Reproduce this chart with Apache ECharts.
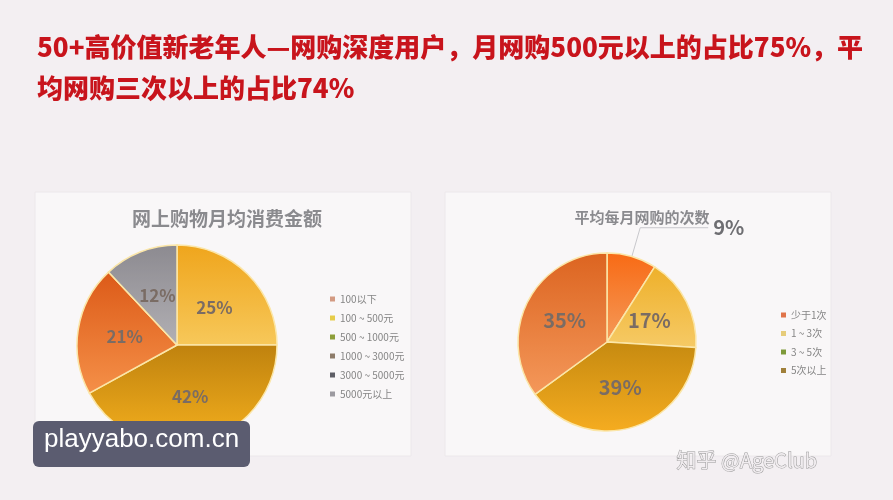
<!DOCTYPE html>
<html>
<head>
<meta charset="utf-8">
<script src="https://cdn.jsdelivr.net/npm/echarts@6/dist/echarts.min.js"></script>
<style>
	html, body { margin: 0; padding: 0; background: #f3eff2; }
	#main { width: 893px; height: 500px; }
</style>
</head>
<body>
<div id="main"></div>
<script>
// 网上购物月均消费金额
const amountCats = ["100以下", "100 ~ 500元", "500 ~ 1000元", "1000 ~ 3000元", "3000 ~ 5000元", "5000元以上"];
const amountValues = [0, 25, 42, 21, 0, 12];
// 平均每月网购的次数
const freqCats = ["少于1次", "1 ~ 3次", "3 ~ 5次", "5次以上"];
const freqValues = [9, 17, 39, 35];

const titleLines = [
	"50+高价值新老年人—网购深度用户，月网购500元以上的占比75%，平",
	"均网购三次以上的占比74%"
];

function grad(top, bottom) {
	return new echarts.graphic.LinearGradient(0, 0, 0, 1, [
		{ offset: 0, color: top },
		{ offset: 1, color: bottom }
	]);
}

// slice colours, legend icon colours
const amountSlice = [
	grad("#d88a5a", "#e8a070"),
	grad("#efa51c", "#f7c85a"),
	grad("#bf820e", "#f5b01e"),
	grad("#dc5a18", "#f59048"),
	grad("#6a6a70", "#8a8a90"),
	grad("#8c8a90", "#b2b0b4")
];
const amountIcon = ["#d39a82", "#e6cc4a", "#8e9e3a", "#8e7c6a", "#5e5e66", "#9c9aa0"];
const freqSlice = [
	grad("#f86a14", "#f49a5a"),
	grad("#eeb02a", "#f6ca66"),
	grad("#c68a10", "#f5ac20"),
	grad("#dc6420", "#f4985a")
];
const freqIcon = ["#e0744a", "#e6cc7a", "#7e9a3a", "#a0803a"];

let chart = echarts.init(document.getElementById("main"));

let labelFmt = function(p) {
	return p.value > 0 ? p.percent + "%" : "";
};

let option = {
	backgroundColor: "#f3eff2",
	textStyle: { fontFamily: "Noto Sans CJK SC" },
	graphic: [
		{
			type: "rect", z: -10,
			shape: { x: 35, y: 192, width: 376, height: 264 },
			style: { fill: "#f9f7f8", stroke: "#ece8eb", lineWidth: 1 }
		},
		{
			type: "rect", z: -10,
			shape: { x: 445, y: 192, width: 386, height: 264 },
			style: { fill: "#f9f7f8", stroke: "#ece8eb", lineWidth: 1 }
		},
		{
			type: "text", left: 37, top: 27,
			style: {
				text: titleLines.join("\n"),
				fill: "#c8141c",
				font: "900 26px 'Noto Sans CJK SC'",
				lineHeight: 41
			}
		},
		{
			type: "rect", z: 100,
			shape: { x: 33, y: 421, width: 217, height: 46, r: 6 },
			style: { fill: "#5b5c70" }
		},
		{
			type: "text", z: 101, left: 44, top: 427,
			style: { text: "playyabo.com.cn", fill: "#ffffff", font: "26px 'Liberation Sans'" }
		},
		{
			type: "text", z: 101, left: 676, top: 450,
			style: { text: "知乎 @AgeClub", fill: "#f0ecef", stroke: "#9a9a9a", lineWidth: 1, font: "20px 'Noto Sans CJK SC'" }
		}
	],
	title: [
		{
			text: "网上购物月均消费金额",
			left: 222, top: 204, textAlign: "center",
			textStyle: { color: "#8a8a8e", fontSize: 19, fontWeight: "bold" }
		},
		{
			text: "平均每月网购的次数",
			left: 637, top: 205, textAlign: "center",
			textStyle: { color: "#8a8a8e", fontSize: 15, fontWeight: "bold" }
		}
	],
	legend: [
		{
			orient: "vertical", left: 325, top: 289,
			icon: "rect", itemWidth: 5, itemHeight: 5, itemGap: 9, itemStyle: { borderWidth: 0 },
			textStyle: { color: "#858585", fontSize: 10 },
			data: amountCats.map((n, i) => ({ name: n, itemStyle: { color: amountIcon[i] } }))
		},
		{
			orient: "vertical", left: 776, top: 305,
			icon: "rect", itemWidth: 5, itemHeight: 5, itemGap: 8.5, itemStyle: { borderWidth: 0 },
			textStyle: { color: "#858585", fontSize: 10 },
			data: freqCats.map((n, i) => ({ name: n, itemStyle: { color: freqIcon[i] } }))
		}
	],
	series: [
		{
			name: "网上购物月均消费金额",
			type: "pie",
			center: [177, 345],
			radius: 100,
			startAngle: 90,
			animation: false,
			itemStyle: { borderColor: "#fbe6a8", borderWidth: 1.5 },
			label: {
				position: "inside",
				formatter: labelFmt,
				color: "#7a6c64",
				fontSize: 17,
				fontWeight: "bold"
			},
			labelLine: { show: false },
			data: amountCats.map((n, i) => ({
				name: n, value: amountValues[i],
				itemStyle: { color: amountSlice[i] }
			}))
		},
		{
			name: "平均每月网购的次数",
			type: "pie",
			center: [607, 342],
			radius: 89,
			startAngle: 90,
			animation: false,
			itemStyle: { borderColor: "#fbe6a8", borderWidth: 1.5 },
			label: {
				position: "inside",
				formatter: labelFmt,
				color: "#7a6c64",
				fontSize: 20,
				fontWeight: "bold"
			},
			labelLine: { show: false },
			data: freqCats.map((n, i) => {
				let item = {
					name: n, value: freqValues[i],
					itemStyle: { color: freqSlice[i] }
				};
				if (i == 0) {
					// 9% 标签在外面，带引导线
					item.label = { position: "outside", color: "#6e6e72", fontSize: 20 };
					item.labelLine = { show: true, length: 30, length2: 68, lineStyle: { color: "#c8c8cc", width: 1 } };
				}
				return item;
			})
		}
	]
};

chart.setOption(option);
</script>
</body>
</html>
